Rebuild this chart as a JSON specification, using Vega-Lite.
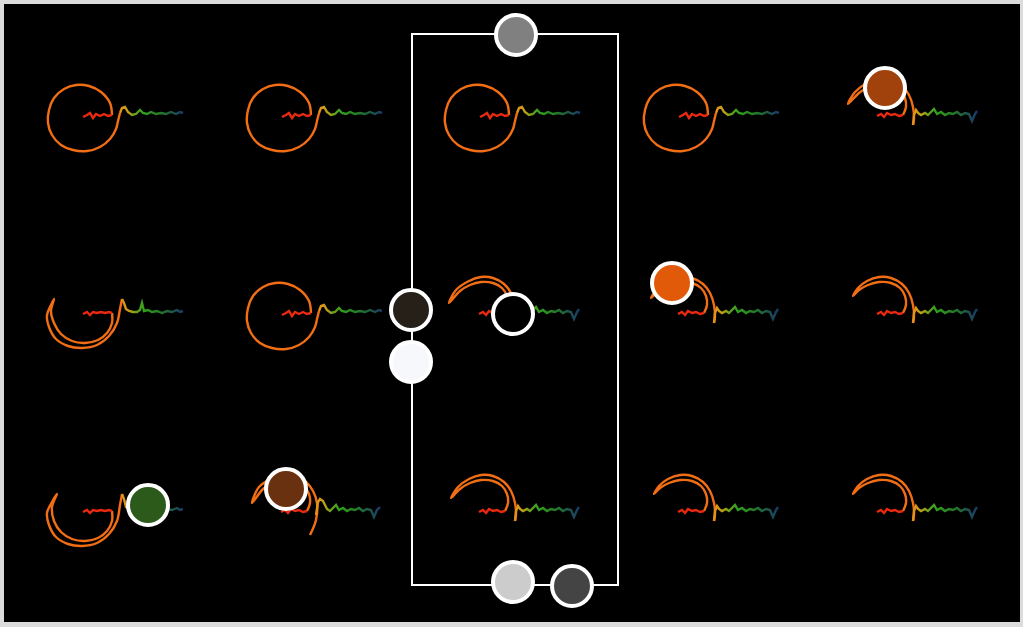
{
"$schema":"https://vega.github.io/schema/vega-lite/v6.json",
"width":1023,"height":627,
"autosize":{"type":"fit","contains":"padding"},
"padding":{"left":4,"top":4,"right":3,"bottom":5},
"background":"#dcdcdc",
"config":{"view":{"fill":"#000000","stroke":null}},
"datasets":{
"glyphs":[
{"g":11,"p":"r","x":83,"y":117},{"g":11,"p":"r","x":87,"y":115},{"g":11,"p":"r","x":90,"y":113},{"g":11,"p":"r","x":93,"y":118},{"g":11,"p":"r","x":96,"y":114},{"g":11,"p":"r","x":100,"y":116},{"g":11,"p":"r","x":104,"y":114},{"g":11,"p":"r","x":108,"y":116},{"g":11,"p":"r","x":112,"y":115},
{"g":11,"p":"s","x":112,"y":115},{"g":11,"p":"s","x":110,"y":103},{"g":11,"p":"s","x":101,"y":92},{"g":11,"p":"s","x":89,"y":86},{"g":11,"p":"s","x":76,"y":85},{"g":11,"p":"s","x":64,"y":89},{"g":11,"p":"s","x":54,"y":98},{"g":11,"p":"s","x":49,"y":110},{"g":11,"p":"s","x":48,"y":123},{"g":11,"p":"s","x":52,"y":135},{"g":11,"p":"s","x":61,"y":145},{"g":11,"p":"s","x":73,"y":150},{"g":11,"p":"s","x":87,"y":151},{"g":11,"p":"s","x":100,"y":147},{"g":11,"p":"s","x":110,"y":139},{"g":11,"p":"s","x":116,"y":129},{"g":11,"p":"s","x":118,"y":121},{"g":11,"p":"s","x":120,"y":113},
{"g":11,"p":"t","x":120,"y":113},{"g":11,"p":"t","x":122,"y":108},{"g":11,"p":"t","x":125,"y":107},{"g":11,"p":"t","x":128,"y":112},{"g":11,"p":"t","x":132,"y":115},{"g":11,"p":"t","x":136,"y":114},{"g":11,"p":"t","x":140,"y":110},{"g":11,"p":"t","x":143,"y":113},{"g":11,"p":"t","x":147,"y":114},{"g":11,"p":"t","x":151,"y":112},{"g":11,"p":"t","x":156,"y":114},{"g":11,"p":"t","x":161,"y":113},{"g":11,"p":"t","x":166,"y":114},{"g":11,"p":"t","x":171,"y":112},{"g":11,"p":"t","x":176,"y":114},{"g":11,"p":"t","x":180,"y":112},{"g":11,"p":"t","x":183,"y":113},

{"g":12,"p":"r","x":282,"y":117},{"g":12,"p":"r","x":286,"y":115},{"g":12,"p":"r","x":289,"y":113},{"g":12,"p":"r","x":292,"y":118},{"g":12,"p":"r","x":295,"y":114},{"g":12,"p":"r","x":299,"y":116},{"g":12,"p":"r","x":303,"y":114},{"g":12,"p":"r","x":307,"y":116},{"g":12,"p":"r","x":311,"y":115},
{"g":12,"p":"s","x":311,"y":115},{"g":12,"p":"s","x":309,"y":103},{"g":12,"p":"s","x":300,"y":92},{"g":12,"p":"s","x":288,"y":86},{"g":12,"p":"s","x":275,"y":85},{"g":12,"p":"s","x":263,"y":89},{"g":12,"p":"s","x":253,"y":98},{"g":12,"p":"s","x":248,"y":110},{"g":12,"p":"s","x":247,"y":123},{"g":12,"p":"s","x":251,"y":135},{"g":12,"p":"s","x":260,"y":145},{"g":12,"p":"s","x":272,"y":150},{"g":12,"p":"s","x":286,"y":151},{"g":12,"p":"s","x":299,"y":147},{"g":12,"p":"s","x":309,"y":139},{"g":12,"p":"s","x":315,"y":129},{"g":12,"p":"s","x":317,"y":121},{"g":12,"p":"s","x":319,"y":113},
{"g":12,"p":"t","x":319,"y":113},{"g":12,"p":"t","x":321,"y":108},{"g":12,"p":"t","x":324,"y":107},{"g":12,"p":"t","x":327,"y":112},{"g":12,"p":"t","x":331,"y":115},{"g":12,"p":"t","x":335,"y":114},{"g":12,"p":"t","x":339,"y":110},{"g":12,"p":"t","x":342,"y":113},{"g":12,"p":"t","x":346,"y":114},{"g":12,"p":"t","x":350,"y":112},{"g":12,"p":"t","x":355,"y":114},{"g":12,"p":"t","x":360,"y":113},{"g":12,"p":"t","x":365,"y":114},{"g":12,"p":"t","x":370,"y":112},{"g":12,"p":"t","x":375,"y":114},{"g":12,"p":"t","x":379,"y":112},{"g":12,"p":"t","x":382,"y":113},

{"g":13,"p":"r","x":480,"y":117},{"g":13,"p":"r","x":484,"y":115},{"g":13,"p":"r","x":487,"y":113},{"g":13,"p":"r","x":490,"y":118},{"g":13,"p":"r","x":493,"y":114},{"g":13,"p":"r","x":497,"y":116},{"g":13,"p":"r","x":501,"y":114},{"g":13,"p":"r","x":505,"y":116},{"g":13,"p":"r","x":509,"y":115},
{"g":13,"p":"s","x":509,"y":115},{"g":13,"p":"s","x":507,"y":103},{"g":13,"p":"s","x":498,"y":92},{"g":13,"p":"s","x":486,"y":86},{"g":13,"p":"s","x":473,"y":85},{"g":13,"p":"s","x":461,"y":89},{"g":13,"p":"s","x":451,"y":98},{"g":13,"p":"s","x":446,"y":110},{"g":13,"p":"s","x":445,"y":123},{"g":13,"p":"s","x":449,"y":135},{"g":13,"p":"s","x":458,"y":145},{"g":13,"p":"s","x":470,"y":150},{"g":13,"p":"s","x":484,"y":151},{"g":13,"p":"s","x":497,"y":147},{"g":13,"p":"s","x":507,"y":139},{"g":13,"p":"s","x":513,"y":129},{"g":13,"p":"s","x":515,"y":121},{"g":13,"p":"s","x":517,"y":113},
{"g":13,"p":"t","x":517,"y":113},{"g":13,"p":"t","x":519,"y":108},{"g":13,"p":"t","x":522,"y":107},{"g":13,"p":"t","x":525,"y":112},{"g":13,"p":"t","x":529,"y":115},{"g":13,"p":"t","x":533,"y":114},{"g":13,"p":"t","x":537,"y":110},{"g":13,"p":"t","x":540,"y":113},{"g":13,"p":"t","x":544,"y":114},{"g":13,"p":"t","x":548,"y":112},{"g":13,"p":"t","x":553,"y":114},{"g":13,"p":"t","x":558,"y":113},{"g":13,"p":"t","x":563,"y":114},{"g":13,"p":"t","x":568,"y":112},{"g":13,"p":"t","x":573,"y":114},{"g":13,"p":"t","x":577,"y":112},{"g":13,"p":"t","x":580,"y":113},

{"g":14,"p":"r","x":679,"y":117},{"g":14,"p":"r","x":683,"y":115},{"g":14,"p":"r","x":686,"y":113},{"g":14,"p":"r","x":689,"y":118},{"g":14,"p":"r","x":692,"y":114},{"g":14,"p":"r","x":696,"y":116},{"g":14,"p":"r","x":700,"y":114},{"g":14,"p":"r","x":704,"y":116},{"g":14,"p":"r","x":708,"y":115},
{"g":14,"p":"s","x":708,"y":115},{"g":14,"p":"s","x":706,"y":103},{"g":14,"p":"s","x":697,"y":92},{"g":14,"p":"s","x":685,"y":86},{"g":14,"p":"s","x":672,"y":85},{"g":14,"p":"s","x":660,"y":89},{"g":14,"p":"s","x":650,"y":98},{"g":14,"p":"s","x":645,"y":110},{"g":14,"p":"s","x":644,"y":123},{"g":14,"p":"s","x":648,"y":135},{"g":14,"p":"s","x":657,"y":145},{"g":14,"p":"s","x":669,"y":150},{"g":14,"p":"s","x":683,"y":151},{"g":14,"p":"s","x":696,"y":147},{"g":14,"p":"s","x":706,"y":139},{"g":14,"p":"s","x":712,"y":129},{"g":14,"p":"s","x":714,"y":121},{"g":14,"p":"s","x":716,"y":113},
{"g":14,"p":"t","x":716,"y":113},{"g":14,"p":"t","x":718,"y":108},{"g":14,"p":"t","x":721,"y":107},{"g":14,"p":"t","x":724,"y":112},{"g":14,"p":"t","x":728,"y":115},{"g":14,"p":"t","x":732,"y":114},{"g":14,"p":"t","x":736,"y":110},{"g":14,"p":"t","x":739,"y":113},{"g":14,"p":"t","x":743,"y":114},{"g":14,"p":"t","x":747,"y":112},{"g":14,"p":"t","x":752,"y":114},{"g":14,"p":"t","x":757,"y":113},{"g":14,"p":"t","x":762,"y":114},{"g":14,"p":"t","x":767,"y":112},{"g":14,"p":"t","x":772,"y":114},{"g":14,"p":"t","x":776,"y":112},{"g":14,"p":"t","x":779,"y":113},

{"g":15,"p":"r","x":877,"y":116},{"g":15,"p":"r","x":881,"y":114},{"g":15,"p":"r","x":884,"y":117},{"g":15,"p":"r","x":887,"y":113},{"g":15,"p":"r","x":891,"y":115},{"g":15,"p":"r","x":895,"y":114},{"g":15,"p":"r","x":899,"y":116},{"g":15,"p":"r","x":903,"y":115},
{"g":15,"p":"s","x":903,"y":115},{"g":15,"p":"s","x":906,"y":107},{"g":15,"p":"s","x":905,"y":98},{"g":15,"p":"s","x":900,"y":90},{"g":15,"p":"s","x":891,"y":85},{"g":15,"p":"s","x":879,"y":84},{"g":15,"p":"s","x":868,"y":87},{"g":15,"p":"s","x":859,"y":93},{"g":15,"p":"s","x":848,"y":104},{"g":15,"p":"s","x":855,"y":92},{"g":15,"p":"s","x":867,"y":83},{"g":15,"p":"s","x":879,"y":79},{"g":15,"p":"s","x":891,"y":80},{"g":15,"p":"s","x":902,"y":86},{"g":15,"p":"s","x":909,"y":95},{"g":15,"p":"s","x":913,"y":107},{"g":15,"p":"s","x":914,"y":119},{"g":15,"p":"s","x":913,"y":125},
{"g":15,"p":"t","x":913,"y":125},{"g":15,"p":"t","x":914,"y":115},{"g":15,"p":"t","x":916,"y":110},{"g":15,"p":"t","x":918,"y":113},{"g":15,"p":"t","x":921,"y":115},{"g":15,"p":"t","x":925,"y":113},{"g":15,"p":"t","x":928,"y":115},{"g":15,"p":"t","x":931,"y":112},{"g":15,"p":"t","x":934,"y":109},{"g":15,"p":"t","x":937,"y":114},{"g":15,"p":"t","x":941,"y":112},{"g":15,"p":"t","x":945,"y":115},{"g":15,"p":"t","x":949,"y":113},{"g":15,"p":"t","x":953,"y":114},{"g":15,"p":"t","x":957,"y":112},{"g":15,"p":"t","x":961,"y":115},{"g":15,"p":"t","x":965,"y":113},{"g":15,"p":"t","x":969,"y":114},{"g":15,"p":"t","x":972,"y":121},{"g":15,"p":"t","x":975,"y":114},{"g":15,"p":"t","x":977,"y":111},

{"g":21,"p":"r","x":83,"y":314},{"g":21,"p":"r","x":87,"y":312},{"g":21,"p":"r","x":90,"y":315},{"g":21,"p":"r","x":93,"y":312},{"g":21,"p":"r","x":97,"y":313},{"g":21,"p":"r","x":101,"y":312},{"g":21,"p":"r","x":105,"y":313},{"g":21,"p":"r","x":109,"y":312},{"g":21,"p":"r","x":112,"y":313},
{"g":21,"p":"s","x":112,"y":313},{"g":21,"p":"s","x":112,"y":323},{"g":21,"p":"s","x":107,"y":333},{"g":21,"p":"s","x":98,"y":340},{"g":21,"p":"s","x":85,"y":343},{"g":21,"p":"s","x":72,"y":341},{"g":21,"p":"s","x":61,"y":334},{"g":21,"p":"s","x":54,"y":323},{"g":21,"p":"s","x":51,"y":311},{"g":21,"p":"s","x":54,"y":299},{"g":21,"p":"s","x":51,"y":305},{"g":21,"p":"s","x":47,"y":315},{"g":21,"p":"s","x":49,"y":327},{"g":21,"p":"s","x":56,"y":339},{"g":21,"p":"s","x":68,"y":346},{"g":21,"p":"s","x":82,"y":348},{"g":21,"p":"s","x":97,"y":345},{"g":21,"p":"s","x":109,"y":336},{"g":21,"p":"s","x":117,"y":323},{"g":21,"p":"s","x":120,"y":309},{"g":21,"p":"s","x":122,"y":299},
{"g":21,"p":"t","x":122,"y":299},{"g":21,"p":"t","x":124,"y":303},{"g":21,"p":"t","x":126,"y":309},{"g":21,"p":"t","x":129,"y":311},{"g":21,"p":"t","x":133,"y":312},{"g":21,"p":"t","x":137,"y":312},{"g":21,"p":"t","x":140,"y":310},{"g":21,"p":"t","x":142,"y":303},{"g":21,"p":"t","x":144,"y":311},{"g":21,"p":"t","x":148,"y":310},{"g":21,"p":"t","x":152,"y":312},{"g":21,"p":"t","x":157,"y":311},{"g":21,"p":"t","x":162,"y":313},{"g":21,"p":"t","x":167,"y":311},{"g":21,"p":"t","x":172,"y":312},{"g":21,"p":"t","x":177,"y":310},{"g":21,"p":"t","x":180,"y":312},{"g":21,"p":"t","x":183,"y":311},

{"g":22,"p":"r","x":282,"y":315},{"g":22,"p":"r","x":286,"y":313},{"g":22,"p":"r","x":289,"y":311},{"g":22,"p":"r","x":292,"y":316},{"g":22,"p":"r","x":295,"y":312},{"g":22,"p":"r","x":299,"y":314},{"g":22,"p":"r","x":303,"y":312},{"g":22,"p":"r","x":307,"y":314},{"g":22,"p":"r","x":311,"y":313},
{"g":22,"p":"s","x":311,"y":313},{"g":22,"p":"s","x":309,"y":301},{"g":22,"p":"s","x":300,"y":290},{"g":22,"p":"s","x":288,"y":284},{"g":22,"p":"s","x":275,"y":283},{"g":22,"p":"s","x":263,"y":287},{"g":22,"p":"s","x":253,"y":296},{"g":22,"p":"s","x":248,"y":308},{"g":22,"p":"s","x":247,"y":321},{"g":22,"p":"s","x":251,"y":333},{"g":22,"p":"s","x":260,"y":343},{"g":22,"p":"s","x":272,"y":348},{"g":22,"p":"s","x":286,"y":349},{"g":22,"p":"s","x":299,"y":345},{"g":22,"p":"s","x":309,"y":337},{"g":22,"p":"s","x":315,"y":327},{"g":22,"p":"s","x":317,"y":319},{"g":22,"p":"s","x":319,"y":311},
{"g":22,"p":"t","x":319,"y":311},{"g":22,"p":"t","x":321,"y":306},{"g":22,"p":"t","x":324,"y":305},{"g":22,"p":"t","x":327,"y":310},{"g":22,"p":"t","x":331,"y":313},{"g":22,"p":"t","x":335,"y":312},{"g":22,"p":"t","x":339,"y":308},{"g":22,"p":"t","x":342,"y":311},{"g":22,"p":"t","x":346,"y":312},{"g":22,"p":"t","x":350,"y":310},{"g":22,"p":"t","x":355,"y":312},{"g":22,"p":"t","x":360,"y":311},{"g":22,"p":"t","x":365,"y":312},{"g":22,"p":"t","x":370,"y":310},{"g":22,"p":"t","x":375,"y":312},{"g":22,"p":"t","x":379,"y":310},{"g":22,"p":"t","x":382,"y":311},

{"g":23,"p":"r","x":479,"y":314},{"g":23,"p":"r","x":483,"y":312},{"g":23,"p":"r","x":486,"y":315},{"g":23,"p":"r","x":489,"y":311},{"g":23,"p":"r","x":493,"y":313},{"g":23,"p":"r","x":497,"y":312},{"g":23,"p":"r","x":501,"y":314},{"g":23,"p":"r","x":505,"y":313},
{"g":23,"p":"s","x":505,"y":313},{"g":23,"p":"s","x":508,"y":305},{"g":23,"p":"s","x":507,"y":296},{"g":23,"p":"s","x":502,"y":288},{"g":23,"p":"s","x":493,"y":283},{"g":23,"p":"s","x":481,"y":282},{"g":23,"p":"s","x":470,"y":285},{"g":23,"p":"s","x":460,"y":291},{"g":23,"p":"s","x":449,"y":303},{"g":23,"p":"s","x":456,"y":290},{"g":23,"p":"s","x":469,"y":281},{"g":23,"p":"s","x":481,"y":277},{"g":23,"p":"s","x":493,"y":278},{"g":23,"p":"s","x":504,"y":284},{"g":23,"p":"s","x":511,"y":293},{"g":23,"p":"s","x":515,"y":305},{"g":23,"p":"s","x":516,"y":317},{"g":23,"p":"s","x":515,"y":323},
{"g":23,"p":"t","x":515,"y":323},{"g":23,"p":"t","x":516,"y":313},{"g":23,"p":"t","x":518,"y":308},{"g":23,"p":"t","x":520,"y":311},{"g":23,"p":"t","x":523,"y":313},{"g":23,"p":"t","x":527,"y":311},{"g":23,"p":"t","x":530,"y":313},{"g":23,"p":"t","x":533,"y":310},{"g":23,"p":"t","x":536,"y":307},{"g":23,"p":"t","x":539,"y":312},{"g":23,"p":"t","x":543,"y":310},{"g":23,"p":"t","x":547,"y":313},{"g":23,"p":"t","x":551,"y":311},{"g":23,"p":"t","x":555,"y":312},{"g":23,"p":"t","x":559,"y":310},{"g":23,"p":"t","x":563,"y":313},{"g":23,"p":"t","x":567,"y":311},{"g":23,"p":"t","x":571,"y":312},{"g":23,"p":"t","x":574,"y":319},{"g":23,"p":"t","x":577,"y":312},{"g":23,"p":"t","x":579,"y":309},

{"g":24,"p":"r","x":678,"y":314},{"g":24,"p":"r","x":682,"y":312},{"g":24,"p":"r","x":685,"y":315},{"g":24,"p":"r","x":688,"y":311},{"g":24,"p":"r","x":692,"y":313},{"g":24,"p":"r","x":696,"y":312},{"g":24,"p":"r","x":700,"y":314},{"g":24,"p":"r","x":704,"y":313},
{"g":24,"p":"s","x":704,"y":313},{"g":24,"p":"s","x":707,"y":305},{"g":24,"p":"s","x":706,"y":296},{"g":24,"p":"s","x":701,"y":288},{"g":24,"p":"s","x":692,"y":283},{"g":24,"p":"s","x":680,"y":282},{"g":24,"p":"s","x":669,"y":285},{"g":24,"p":"s","x":660,"y":290},{"g":24,"p":"s","x":651,"y":298},{"g":24,"p":"s","x":658,"y":288},{"g":24,"p":"s","x":668,"y":281},{"g":24,"p":"s","x":680,"y":277},{"g":24,"p":"s","x":692,"y":278},{"g":24,"p":"s","x":703,"y":284},{"g":24,"p":"s","x":710,"y":293},{"g":24,"p":"s","x":714,"y":305},{"g":24,"p":"s","x":715,"y":317},{"g":24,"p":"s","x":714,"y":323},
{"g":24,"p":"t","x":714,"y":323},{"g":24,"p":"t","x":715,"y":313},{"g":24,"p":"t","x":717,"y":308},{"g":24,"p":"t","x":719,"y":311},{"g":24,"p":"t","x":722,"y":313},{"g":24,"p":"t","x":726,"y":311},{"g":24,"p":"t","x":729,"y":313},{"g":24,"p":"t","x":732,"y":310},{"g":24,"p":"t","x":735,"y":307},{"g":24,"p":"t","x":738,"y":312},{"g":24,"p":"t","x":742,"y":310},{"g":24,"p":"t","x":746,"y":313},{"g":24,"p":"t","x":750,"y":311},{"g":24,"p":"t","x":754,"y":312},{"g":24,"p":"t","x":758,"y":310},{"g":24,"p":"t","x":762,"y":313},{"g":24,"p":"t","x":766,"y":311},{"g":24,"p":"t","x":770,"y":312},{"g":24,"p":"t","x":773,"y":319},{"g":24,"p":"t","x":776,"y":312},{"g":24,"p":"t","x":778,"y":309},

{"g":25,"p":"r","x":877,"y":314},{"g":25,"p":"r","x":881,"y":312},{"g":25,"p":"r","x":884,"y":315},{"g":25,"p":"r","x":887,"y":311},{"g":25,"p":"r","x":891,"y":313},{"g":25,"p":"r","x":895,"y":312},{"g":25,"p":"r","x":899,"y":314},{"g":25,"p":"r","x":903,"y":313},
{"g":25,"p":"s","x":903,"y":313},{"g":25,"p":"s","x":906,"y":305},{"g":25,"p":"s","x":905,"y":296},{"g":25,"p":"s","x":900,"y":288},{"g":25,"p":"s","x":891,"y":283},{"g":25,"p":"s","x":879,"y":282},{"g":25,"p":"s","x":868,"y":285},{"g":25,"p":"s","x":859,"y":290},{"g":25,"p":"s","x":853,"y":296},{"g":25,"p":"s","x":858,"y":288},{"g":25,"p":"s","x":867,"y":281},{"g":25,"p":"s","x":879,"y":277},{"g":25,"p":"s","x":891,"y":278},{"g":25,"p":"s","x":902,"y":284},{"g":25,"p":"s","x":909,"y":293},{"g":25,"p":"s","x":913,"y":305},{"g":25,"p":"s","x":914,"y":317},{"g":25,"p":"s","x":913,"y":323},
{"g":25,"p":"t","x":913,"y":323},{"g":25,"p":"t","x":914,"y":313},{"g":25,"p":"t","x":916,"y":308},{"g":25,"p":"t","x":918,"y":311},{"g":25,"p":"t","x":921,"y":313},{"g":25,"p":"t","x":925,"y":311},{"g":25,"p":"t","x":928,"y":313},{"g":25,"p":"t","x":931,"y":310},{"g":25,"p":"t","x":934,"y":307},{"g":25,"p":"t","x":937,"y":312},{"g":25,"p":"t","x":941,"y":310},{"g":25,"p":"t","x":945,"y":313},{"g":25,"p":"t","x":949,"y":311},{"g":25,"p":"t","x":953,"y":312},{"g":25,"p":"t","x":957,"y":310},{"g":25,"p":"t","x":961,"y":313},{"g":25,"p":"t","x":965,"y":311},{"g":25,"p":"t","x":969,"y":312},{"g":25,"p":"t","x":972,"y":319},{"g":25,"p":"t","x":975,"y":312},{"g":25,"p":"t","x":977,"y":309},

{"g":31,"p":"r","x":83,"y":512},{"g":31,"p":"r","x":87,"y":510},{"g":31,"p":"r","x":90,"y":513},{"g":31,"p":"r","x":93,"y":510},{"g":31,"p":"r","x":97,"y":511},{"g":31,"p":"r","x":101,"y":510},{"g":31,"p":"r","x":105,"y":511},{"g":31,"p":"r","x":109,"y":510},{"g":31,"p":"r","x":112,"y":511},
{"g":31,"p":"s","x":112,"y":511},{"g":31,"p":"s","x":112,"y":521},{"g":31,"p":"s","x":107,"y":531},{"g":31,"p":"s","x":98,"y":538},{"g":31,"p":"s","x":85,"y":541},{"g":31,"p":"s","x":72,"y":539},{"g":31,"p":"s","x":61,"y":532},{"g":31,"p":"s","x":54,"y":521},{"g":31,"p":"s","x":52,"y":507},{"g":31,"p":"s","x":57,"y":494},{"g":31,"p":"s","x":52,"y":502},{"g":31,"p":"s","x":47,"y":513},{"g":31,"p":"s","x":49,"y":525},{"g":31,"p":"s","x":56,"y":537},{"g":31,"p":"s","x":68,"y":544},{"g":31,"p":"s","x":82,"y":546},{"g":31,"p":"s","x":97,"y":543},{"g":31,"p":"s","x":109,"y":534},{"g":31,"p":"s","x":117,"y":521},{"g":31,"p":"s","x":120,"y":505},{"g":31,"p":"s","x":122,"y":494},
{"g":31,"p":"t","x":122,"y":494},{"g":31,"p":"t","x":124,"y":499},{"g":31,"p":"t","x":126,"y":507},{"g":31,"p":"t","x":129,"y":509},{"g":31,"p":"t","x":133,"y":510},{"g":31,"p":"t","x":137,"y":510},{"g":31,"p":"t","x":140,"y":508},{"g":31,"p":"t","x":142,"y":501},{"g":31,"p":"t","x":144,"y":509},{"g":31,"p":"t","x":148,"y":508},{"g":31,"p":"t","x":152,"y":510},{"g":31,"p":"t","x":157,"y":509},{"g":31,"p":"t","x":162,"y":511},{"g":31,"p":"t","x":167,"y":509},{"g":31,"p":"t","x":172,"y":510},{"g":31,"p":"t","x":177,"y":508},{"g":31,"p":"t","x":180,"y":510},{"g":31,"p":"t","x":183,"y":509},

{"g":32,"p":"r","x":281,"y":512},{"g":32,"p":"r","x":285,"y":510},{"g":32,"p":"r","x":288,"y":513},{"g":32,"p":"r","x":291,"y":509},{"g":32,"p":"r","x":295,"y":511},{"g":32,"p":"r","x":299,"y":510},{"g":32,"p":"r","x":303,"y":512},{"g":32,"p":"r","x":307,"y":511},
{"g":32,"p":"s","x":307,"y":511},{"g":32,"p":"s","x":310,"y":503},{"g":32,"p":"s","x":309,"y":494},{"g":32,"p":"s","x":304,"y":486},{"g":32,"p":"s","x":295,"y":481},{"g":32,"p":"s","x":283,"y":480},{"g":32,"p":"s","x":272,"y":483},{"g":32,"p":"s","x":263,"y":489},{"g":32,"p":"s","x":252,"y":503},{"g":32,"p":"s","x":259,"y":487},{"g":32,"p":"s","x":271,"y":479},{"g":32,"p":"s","x":283,"y":475},{"g":32,"p":"s","x":295,"y":476},{"g":32,"p":"s","x":306,"y":482},{"g":32,"p":"s","x":313,"y":491},{"g":32,"p":"s","x":317,"y":503},{"g":32,"p":"s","x":316,"y":520},{"g":32,"p":"s","x":310,"y":535},
{"g":32,"p":"t","x":316,"y":515},{"g":32,"p":"t","x":318,"y":502},{"g":32,"p":"t","x":320,"y":499},{"g":32,"p":"t","x":323,"y":501},{"g":32,"p":"t","x":327,"y":509},{"g":32,"p":"t","x":330,"y":511},{"g":32,"p":"t","x":333,"y":508},{"g":32,"p":"t","x":336,"y":505},{"g":32,"p":"t","x":339,"y":510},{"g":32,"p":"t","x":343,"y":508},{"g":32,"p":"t","x":347,"y":511},{"g":32,"p":"t","x":351,"y":509},{"g":32,"p":"t","x":355,"y":510},{"g":32,"p":"t","x":359,"y":508},{"g":32,"p":"t","x":363,"y":511},{"g":32,"p":"t","x":367,"y":509},{"g":32,"p":"t","x":371,"y":510},{"g":32,"p":"t","x":374,"y":517},{"g":32,"p":"t","x":377,"y":510},{"g":32,"p":"t","x":380,"y":507},

{"g":33,"p":"r","x":479,"y":512},{"g":33,"p":"r","x":483,"y":510},{"g":33,"p":"r","x":486,"y":513},{"g":33,"p":"r","x":489,"y":509},{"g":33,"p":"r","x":493,"y":511},{"g":33,"p":"r","x":497,"y":510},{"g":33,"p":"r","x":501,"y":512},{"g":33,"p":"r","x":505,"y":511},
{"g":33,"p":"s","x":505,"y":511},{"g":33,"p":"s","x":508,"y":503},{"g":33,"p":"s","x":507,"y":494},{"g":33,"p":"s","x":502,"y":486},{"g":33,"p":"s","x":493,"y":481},{"g":33,"p":"s","x":481,"y":480},{"g":33,"p":"s","x":470,"y":483},{"g":33,"p":"s","x":460,"y":489},{"g":33,"p":"s","x":451,"y":498},{"g":33,"p":"s","x":458,"y":487},{"g":33,"p":"s","x":469,"y":479},{"g":33,"p":"s","x":481,"y":475},{"g":33,"p":"s","x":493,"y":476},{"g":33,"p":"s","x":504,"y":482},{"g":33,"p":"s","x":511,"y":491},{"g":33,"p":"s","x":515,"y":503},{"g":33,"p":"s","x":516,"y":515},{"g":33,"p":"s","x":515,"y":521},
{"g":33,"p":"t","x":515,"y":521},{"g":33,"p":"t","x":516,"y":511},{"g":33,"p":"t","x":518,"y":506},{"g":33,"p":"t","x":520,"y":509},{"g":33,"p":"t","x":523,"y":511},{"g":33,"p":"t","x":527,"y":509},{"g":33,"p":"t","x":530,"y":511},{"g":33,"p":"t","x":533,"y":508},{"g":33,"p":"t","x":536,"y":505},{"g":33,"p":"t","x":539,"y":510},{"g":33,"p":"t","x":543,"y":508},{"g":33,"p":"t","x":547,"y":511},{"g":33,"p":"t","x":551,"y":509},{"g":33,"p":"t","x":555,"y":510},{"g":33,"p":"t","x":559,"y":508},{"g":33,"p":"t","x":563,"y":511},{"g":33,"p":"t","x":567,"y":509},{"g":33,"p":"t","x":571,"y":510},{"g":33,"p":"t","x":574,"y":517},{"g":33,"p":"t","x":577,"y":510},{"g":33,"p":"t","x":579,"y":507},

{"g":34,"p":"r","x":678,"y":512},{"g":34,"p":"r","x":682,"y":510},{"g":34,"p":"r","x":685,"y":513},{"g":34,"p":"r","x":688,"y":509},{"g":34,"p":"r","x":692,"y":511},{"g":34,"p":"r","x":696,"y":510},{"g":34,"p":"r","x":700,"y":512},{"g":34,"p":"r","x":704,"y":511},
{"g":34,"p":"s","x":704,"y":511},{"g":34,"p":"s","x":707,"y":503},{"g":34,"p":"s","x":706,"y":494},{"g":34,"p":"s","x":701,"y":486},{"g":34,"p":"s","x":692,"y":481},{"g":34,"p":"s","x":680,"y":480},{"g":34,"p":"s","x":669,"y":483},{"g":34,"p":"s","x":660,"y":488},{"g":34,"p":"s","x":654,"y":494},{"g":34,"p":"s","x":659,"y":486},{"g":34,"p":"s","x":668,"y":479},{"g":34,"p":"s","x":680,"y":475},{"g":34,"p":"s","x":692,"y":476},{"g":34,"p":"s","x":703,"y":482},{"g":34,"p":"s","x":710,"y":491},{"g":34,"p":"s","x":714,"y":503},{"g":34,"p":"s","x":715,"y":515},{"g":34,"p":"s","x":714,"y":521},
{"g":34,"p":"t","x":714,"y":521},{"g":34,"p":"t","x":715,"y":511},{"g":34,"p":"t","x":717,"y":506},{"g":34,"p":"t","x":719,"y":509},{"g":34,"p":"t","x":722,"y":511},{"g":34,"p":"t","x":726,"y":509},{"g":34,"p":"t","x":729,"y":511},{"g":34,"p":"t","x":732,"y":508},{"g":34,"p":"t","x":735,"y":505},{"g":34,"p":"t","x":738,"y":510},{"g":34,"p":"t","x":742,"y":508},{"g":34,"p":"t","x":746,"y":511},{"g":34,"p":"t","x":750,"y":509},{"g":34,"p":"t","x":754,"y":510},{"g":34,"p":"t","x":758,"y":508},{"g":34,"p":"t","x":762,"y":511},{"g":34,"p":"t","x":766,"y":509},{"g":34,"p":"t","x":770,"y":510},{"g":34,"p":"t","x":773,"y":517},{"g":34,"p":"t","x":776,"y":510},{"g":34,"p":"t","x":778,"y":507},

{"g":35,"p":"r","x":877,"y":512},{"g":35,"p":"r","x":881,"y":510},{"g":35,"p":"r","x":884,"y":513},{"g":35,"p":"r","x":887,"y":509},{"g":35,"p":"r","x":891,"y":511},{"g":35,"p":"r","x":895,"y":510},{"g":35,"p":"r","x":899,"y":512},{"g":35,"p":"r","x":903,"y":511},
{"g":35,"p":"s","x":903,"y":511},{"g":35,"p":"s","x":906,"y":503},{"g":35,"p":"s","x":905,"y":494},{"g":35,"p":"s","x":900,"y":486},{"g":35,"p":"s","x":891,"y":481},{"g":35,"p":"s","x":879,"y":480},{"g":35,"p":"s","x":868,"y":483},{"g":35,"p":"s","x":859,"y":488},{"g":35,"p":"s","x":853,"y":494},{"g":35,"p":"s","x":858,"y":486},{"g":35,"p":"s","x":867,"y":479},{"g":35,"p":"s","x":879,"y":475},{"g":35,"p":"s","x":891,"y":476},{"g":35,"p":"s","x":902,"y":482},{"g":35,"p":"s","x":909,"y":491},{"g":35,"p":"s","x":913,"y":503},{"g":35,"p":"s","x":914,"y":515},{"g":35,"p":"s","x":913,"y":521},
{"g":35,"p":"t","x":913,"y":521},{"g":35,"p":"t","x":914,"y":511},{"g":35,"p":"t","x":916,"y":506},{"g":35,"p":"t","x":918,"y":509},{"g":35,"p":"t","x":921,"y":511},{"g":35,"p":"t","x":925,"y":509},{"g":35,"p":"t","x":928,"y":511},{"g":35,"p":"t","x":931,"y":508},{"g":35,"p":"t","x":934,"y":505},{"g":35,"p":"t","x":937,"y":510},{"g":35,"p":"t","x":941,"y":508},{"g":35,"p":"t","x":945,"y":511},{"g":35,"p":"t","x":949,"y":509},{"g":35,"p":"t","x":953,"y":510},{"g":35,"p":"t","x":957,"y":508},{"g":35,"p":"t","x":961,"y":511},{"g":35,"p":"t","x":965,"y":509},{"g":35,"p":"t","x":969,"y":510},{"g":35,"p":"t","x":972,"y":517},{"g":35,"p":"t","x":975,"y":510},{"g":35,"p":"t","x":977,"y":507}
],
"frame":[{"x":412,"y":34,"x2":618,"y2":585}],
"marks":[
{"k":"a","x":516,"y":35},{"k":"b","x":885,"y":88},{"k":"c","x":411,"y":310},{"k":"d","x":411,"y":362},{"k":"e","x":513,"y":314},
{"k":"f","x":672,"y":283},{"k":"g","x":148,"y":505},{"k":"h","x":286,"y":489},{"k":"i","x":513,"y":582},{"k":"j","x":572,"y":586}
]
},
"encoding":{
"x":{"field":"x","type":"quantitative","scale":{"domain":[4,1020],"nice":false,"zero":false},"axis":null},
"y":{"field":"y","type":"quantitative","scale":{"domain":[4,622],"nice":false,"zero":false,"reverse":true},"axis":null}
},
"layer":[
{"data":{"name":"glyphs"},"transform":[{"filter":{"field":"p","equal":"s"}}],
 "mark":{"type":"line","stroke":"#f26e14","strokeWidth":2.4,"interpolate":"catmull-rom"},
 "encoding":{"detail":{"field":"g","type":"nominal"},"order":{"value":null}}},
{"data":{"name":"glyphs"},"transform":[{"filter":{"field":"p","equal":"r"}}],
 "mark":{"type":"line","stroke":"#ea2a10","strokeWidth":2.4},
 "encoding":{"detail":{"field":"g","type":"nominal"},"order":{"value":null}}},
{"data":{"name":"glyphs"},"transform":[{"filter":{"field":"p","equal":"t"}}],
 "mark":{"type":"line","strokeWidth":2.4,"stroke":{"gradient":"linear","x1":0,"y1":0,"x2":1,"y2":0,"stops":[{"offset":0,"color":"#e8901a"},{"offset":0.12,"color":"#c0a016"},{"offset":0.24,"color":"#6aa01a"},{"offset":0.36,"color":"#30a01e"},{"offset":0.6,"color":"#268024"},{"offset":0.8,"color":"#1e5e44"},{"offset":1,"color":"#1a3a6a"}]}},
 "encoding":{"detail":{"field":"g","type":"nominal"},"order":{"value":null}}},
{"data":{"name":"frame"},"mark":{"type":"rect","filled":false,"stroke":"#ffffff","strokeWidth":2},
 "encoding":{"x2":{"field":"x2"},"y2":{"field":"y2"}}},
{"data":{"name":"marks"},"mark":{"type":"point","shape":"circle","filled":true,"size":1600,"stroke":"#ffffff","strokeWidth":4,"opacity":1},
 "encoding":{"fill":{"field":"k","type":"nominal","legend":null,"scale":{"domain":["a","b","c","d","e","f","g","h","i","j"],"range":["#808080","#a1420d","#262019","#f6f8fb","#000000","#e05a0a","#2b5a1a","#6a3110","#cccccc","#444444"]}}}}
]
}
